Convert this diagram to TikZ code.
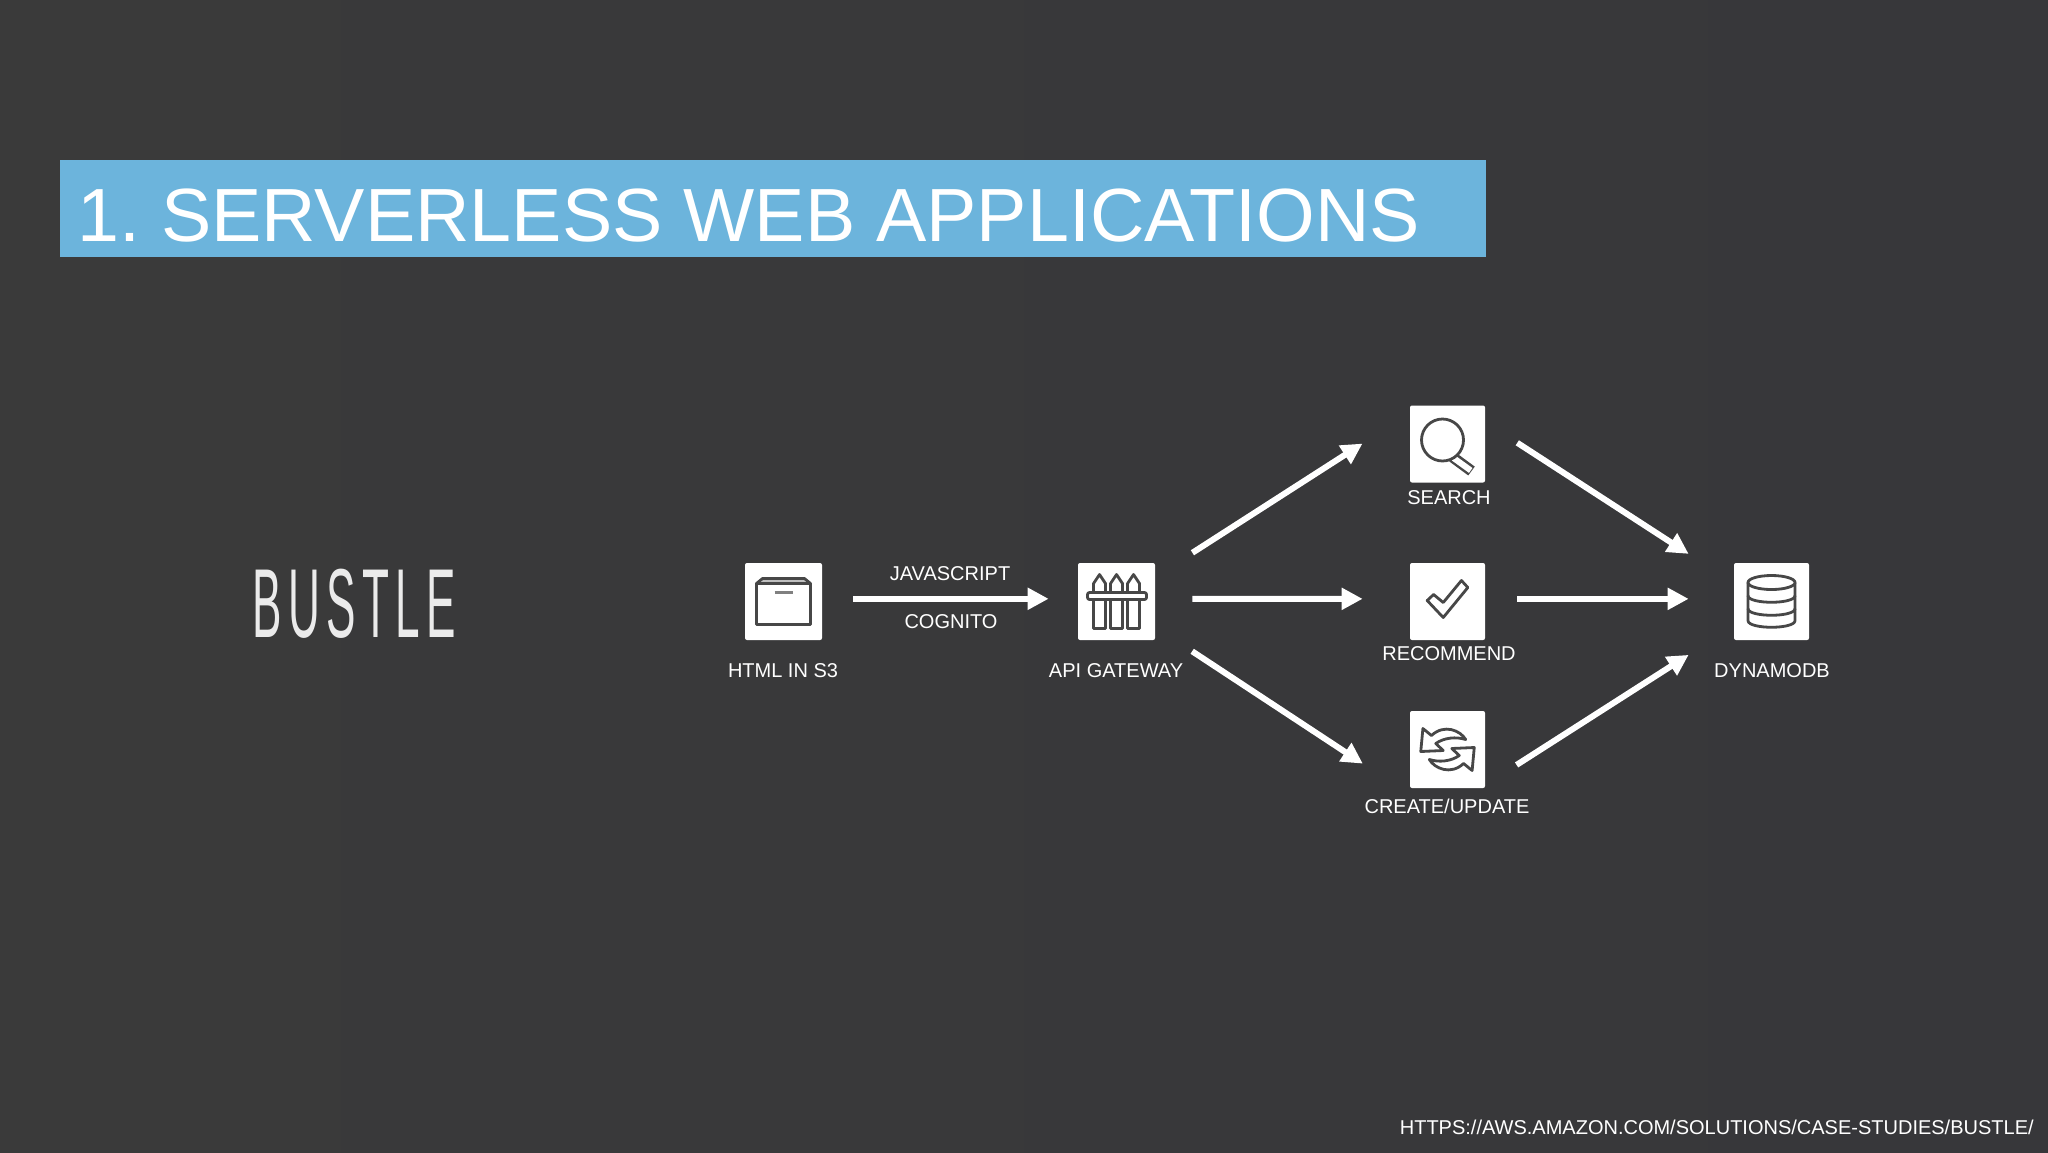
\documentclass[tikz,border=0pt]{standalone}
\usepackage{fontspec}
\setmainfont{Liberation Sans}
\usetikzlibrary{arrows.meta}
\definecolor{slate}{HTML}{3A3A3A}
\definecolor{slateb}{HTML}{37373A}
\definecolor{barblue}{HTML}{6CB4DC}
\definecolor{inkgray}{HTML}{474747}
\tikzset{
    icon/.style = {fill=white, rounded corners=1pt, inner sep=0pt, minimum width=#1*0.5pt, minimum height=38.5pt},
    lab/.style = {text=white, anchor=base, inner sep=0pt, font=\fontsize{10pt}{12pt}\selectfont},
    flow/.style = {white, line width=3pt, -{Triangle[length=10.5pt, width=10.5pt]}},
    glyph/.style = {draw=inkgray, line width=1.4pt, line join=round}
}
\begin{document}
\begin{tikzpicture}[x=0.5pt, y=-0.5pt]
    \useasboundingbox (0,0) rectangle (2048,1152);
    \shade[left color=slate, right color=slateb] (0,0) rectangle (2048,1152);
    \node[fill=barblue, inner sep=0pt, minimum width=713pt, minimum height=48.5pt, anchor=north west] (bar) at (60,160) {};
    \node[lab, anchor=base west, font=\fontsize{37.7pt}{44pt}\selectfont\frenchspacing] (title) at (77,241) {1. SERVERLESS WEB APPLICATIONS};
    \node[anchor=base, inner sep=0pt, text=white!92!black, xscale=0.45, font=\fontsize{49pt}{50pt}\selectfont] (bustle) at (354,637) {B\kern 7pt U\kern 7pt S\kern 7pt T\kern 7pt L\kern 7pt E};

    \node[icon=77] (s3) at (783.5,601.5) {};
    \node[icon=77] (gateway) at (1116.5,601.5) {};
    \node[icon=75] (search) at (1447.5,444) {};
    \node[icon=75] (recommend) at (1447.5,601.5) {};
    \node[icon=75] (create) at (1447.5,749.5) {};
    \node[icon=75] (dynamodb) at (1771.5,601.5) {};

    \node[lab] (s3label) at (783,677) {HTML IN S3};
    \node[lab] (gatewaylabel) at (1116,677) {API GATEWAY};
    \node[lab] (jslabel) at (950,580) {JAVASCRIPT};
    \node[lab] (cognitolabel) at (951,628) {COGNITO};
    \node[lab] (searchlabel) at (1449,504) {SEARCH};
    \node[lab] (recommendlabel) at (1449,660) {RECOMMEND};
    \node[lab] (createlabel) at (1447,813) {CREATE/UPDATE};
    \node[lab] (dynamolabel) at (1772,677) {DYNAMODB};
    \node[lab, anchor=base east] (urllabel) at (2034,1134) {HTTPS://AWS.AMAZON.COM/SOLUTIONS/CASE-STUDIES/BUSTLE/};

    \draw[flow, shorten <=15.5pt, shorten >=14.5pt] (s3.4) -- (gateway.176);
    \draw[flow, shorten <=22pt, shorten >=28pt] (gateway) -- (search.141);
    \draw[flow, shorten <=18.5pt, shorten >=23.5pt] (gateway.4) -- (recommend.176);
    \draw[flow, shorten <=22pt, shorten >=28pt] (gateway) -- ([yshift=-3pt]create.south west);
    \draw[flow, shorten <=19pt, shorten >=26.8pt] (search.30) -- (dynamodb.154);
    \draw[flow, shorten <=16pt, shorten >=22.5pt] (recommend.4) -- (dynamodb.176);
    \draw[flow, shorten <=18.5pt, shorten >=26.7pt] (create.-43) -- (dynamodb.213);

    \begin{scope}[shift={(s3)}]
        \draw[glyph] (-27,-18) rectangle (27,23);
        \draw[glyph, fill=black!25] (-21,-23) -- (21,-23) -- (27,-18) -- (-27,-18) -- cycle;
        \draw[glyph, draw=black!50] (-9,-9) -- (9,-9);
    \end{scope}
    \begin{scope}[shift={(gateway)}]
        \foreach \x in {-17,0,17}
            \draw[glyph, shift={(\x,0)}] (-6,27) -- (-6,-18) -- (0,-27) -- (6,-18) -- (6,27) -- cycle;
        \draw[glyph, fill=white, rounded corners=1pt] (-29,-9) rectangle (30,-2);
    \end{scope}
    \begin{scope}[shift={(search)}]
        \draw[inkgray, line width=5.5pt] (5,13) -- (24,27);
        \draw[white, line width=3pt] (6,14) -- (23.2,26.4);
        \draw[glyph, fill=white] (-5,-4) circle[radius=21];
    \end{scope}
    \begin{scope}[shift={(recommend)}, xscale=1.07]
        \draw[glyph] (-19,-1) -- (-4,16) -- (19,-14) -- (13,-21) -- (-4,1) -- (-13,-7) -- cycle;
    \end{scope}
    \begin{scope}[shift={(create)}, xscale=1.07]
        \foreach \r in {0,180}
            \draw[glyph, rotate=\r] (-23,-21) -- (-25,2) -- (-4,1) -- (-11,-6) .. controls (-3,-12) and (8,-13) .. (17,-10) .. controls (12,-19) and (-3,-26) .. (-15,-14) -- cycle;
    \end{scope}
    \begin{scope}[shift={(dynamodb)}, xscale=1.07]
        \draw[glyph] (0,-19) ellipse[x radius=22, y radius=7];
        \draw[glyph] (-22,-19) -- (-22,19) .. controls (-22,28) and (22,28) .. (22,19) -- (22,-19);
        \foreach \y in {-6,7}
            \draw[glyph] (-22,\y) .. controls (-22,\y+9) and (22,\y+9) .. (22,\y);
    \end{scope}
\end{tikzpicture}
\end{document}
